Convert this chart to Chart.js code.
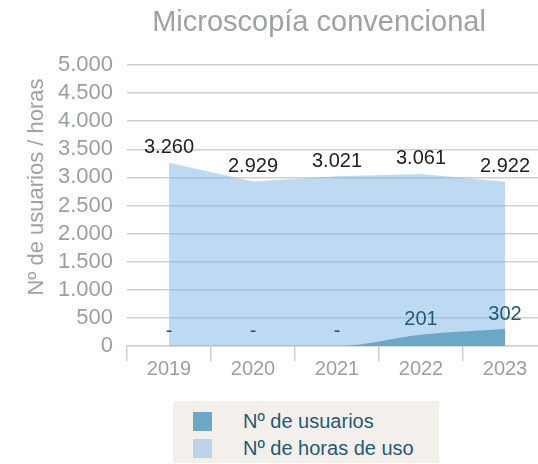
<!DOCTYPE html>
<html lang="es">
<head>
<meta charset="utf-8">
<script src="https://cdn.jsdelivr.net/npm/chart.js@4/dist/chart.umd.min.js"></script>
<style>
  html, body { margin: 0; padding: 0; background: #fff; overflow: hidden; }
  #wrap { position: relative; width: 538px; height: 464px; overflow: hidden; }
  #grafico { position: absolute; left: 0; top: 0; }
  #leyenda {
    position: absolute; left: 173px; top: 401px; width: 266px; height: 62px;
    background: #f3f0ec; font-family: "Liberation Sans", sans-serif;
    font-size: 20px; color: #1f5a78;
  }
  #leyenda .item { position: absolute; left: 20px; height: 19px; line-height: 19px; white-space: nowrap; }
  #leyenda .caja { display: inline-block; width: 19px; height: 19px; vertical-align: top; }
  #leyenda .txt { position: absolute; left: 50px; top: 0; }
</style>
</head>
<body>
<div id="wrap">
  <canvas id="grafico" width="548" height="464"></canvas>
  <div id="leyenda"></div>
</div>
<script>
const FUENTE = '"Liberation Sans", sans-serif';

const anios = ['2019', '2020', '2021', '2022', '2023'];
const usuarios = [0, 0, 0, 201, 302];
const horasUso = [3260, 2929, 3021, 3061, 2922];
const ticksY = [0, 500, 1000, 1500, 2000, 2500, 3000, 3500, 4000, 4500, 5000];

const colorUsuarios = '#6ba8c8';
const colorHoras = 'rgba(125,181,229,0.5)';
const colorLeyendaHoras = '#b9d4e8';

// 3260 -> "3.260"
function miles(v) {
  return String(v).replace(/\B(?=(\d{3})+(?!\d))/g, '.');
}

const rotulos = {
  id: 'rotulos',
  afterDatasetsDraw(chart) {
    const ctx = chart.ctx;
    ctx.save();
    ctx.font = '20px ' + FUENTE;
    ctx.textAlign = 'center';
    ctx.textBaseline = 'bottom';
    chart.data.datasets.forEach((ds, i) => {
      const meta = chart.getDatasetMeta(i);
      meta.data.forEach((pt, j) => {
        const v = ds.data[j];
        ctx.fillStyle = i === 0 ? '#1f5a78' : '#222';
        const txt = v === 0 ? '-' : miles(v);
        ctx.fillText(txt, pt.x, pt.y - 5);
      });
    });
    ctx.restore();
  }
};

const titulos = {
  id: 'titulos',
  afterDraw(chart) {
    const ctx = chart.ctx;
    ctx.save();
    ctx.fillStyle = '#9ca2a5';
    ctx.textAlign = 'center';
    ctx.textBaseline = 'alphabetic';
    ctx.font = '29px ' + FUENTE;
    ctx.fillText('Microscopía convencional', 319, 31);
    ctx.translate(37, 187);
    ctx.rotate(-Math.PI / 2);
    ctx.textBaseline = 'middle';
    ctx.font = '22px ' + FUENTE;
    ctx.fillText('Nº de usuarios / horas', 0, 0);
    ctx.restore();
  }
};

const grafico = new Chart(document.getElementById('grafico'), {
  type: 'line',
  data: {
    labels: anios,
    datasets: [
      {
        label: 'Nº de usuarios',
        data: usuarios,
        backgroundColor: colorUsuarios,
        borderWidth: 0,
        pointRadius: 0,
        fill: 'origin',
        cubicInterpolationMode: 'monotone'
      },
      {
        label: 'Nº de horas de uso',
        data: horasUso,
        backgroundColor: colorHoras,
        borderWidth: 0,
        pointRadius: 0,
        fill: 'origin'
      }
    ]
  },
  options: {
    responsive: false,
    animation: false,
    layout: { padding: { top: 65, right: 1, left: 0, bottom: 78 } },
    plugins: {
      legend: { display: false },
      tooltip: { enabled: false }
    },
    scales: {
      x: {
        offset: true,
        grid: { offset: true, drawOnChartArea: false, tickLength: 15, color: '#cfcfcf', lineWidth: 1.5 },
        border: { color: '#cfcfcf', width: 1.5 },
        ticks: { color: '#9a9fa3', font: { family: FUENTE, size: 20 }, padding: -4 },
        afterFit(scale) { scale.height = 40; }
      },
      y: {
        min: 0,
        max: 5000,
        afterBuildTicks(scale) { scale.ticks = ticksY.map(v => ({ value: v })); },
        grid: { drawTicks: false, color: '#cfcfcf', lineWidth: 1.5 },
        border: { display: false },
        ticks: {
          autoSkip: false,
          color: '#9a9fa3',
          font: { family: FUENTE, size: 22 },
          padding: 14,
          callback: v => miles(v)
        },
        afterFit(scale) { scale.width = 127; }
      }
    }
  },
  plugins: [rotulos, titulos]
});

// leyenda en HTML con los colores de cada serie
const leyenda = document.getElementById('leyenda');
grafico.data.datasets.forEach((ds, i) => {
  const item = document.createElement('div');
  item.className = 'item';
  item.style.top = (11 + i * 27) + 'px';
  const caja = document.createElement('span');
  caja.className = 'caja';
  caja.style.background = i === 0 ? colorUsuarios : colorLeyendaHoras;
  const txt = document.createElement('span');
  txt.className = 'txt';
  txt.textContent = ds.label;
  item.appendChild(caja);
  item.appendChild(txt);
  leyenda.appendChild(item);
});
</script>
</body>
</html>
